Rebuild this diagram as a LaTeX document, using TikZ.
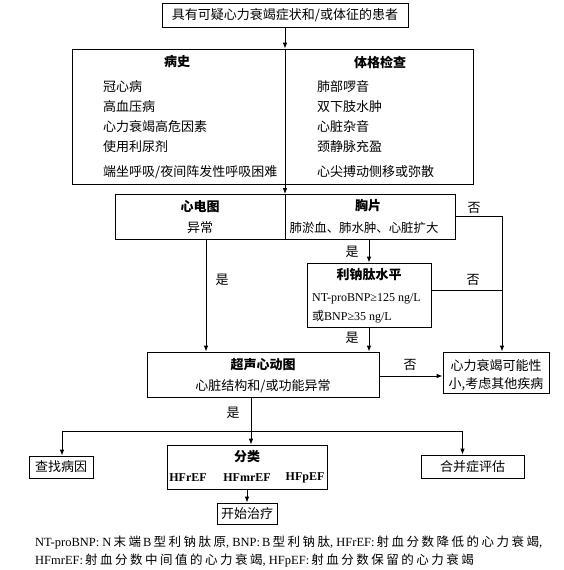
\documentclass[tikz,border=0pt]{standalone}
\usepackage{fontspec}
\setmainfont{Liberation Serif}
\newfontfamily\C{Noto Sans CJK SC}
\newfontfamily\Cfn[LetterSpace=20]{Noto Sans CJK SC}
\usetikzlibrary{arrows.meta,calc}
\begin{document}
\begin{tikzpicture}[x=1pt,y=-1pt,
  box/.style={draw, line width=0.8pt, inner sep=0pt, font=\C\fontsize{13}{15}\selectfont},
  txt/.style={inner sep=0pt, font=\C\fontsize{13}{15}\selectfont},
  hd/.style={inner sep=0pt, font=\C\bfseries\fontsize{13}{15}\selectfont},
  itm/.style={txt, anchor=west},
  lat/.style={inner sep=0pt, anchor=west, font=\fontsize{12}{14}\selectfont},
  hf/.style={inner sep=0pt, font=\bfseries\fontsize{12}{14}\selectfont},
  fn/.style={inner sep=0pt, anchor=west, font=\fontsize{12.5}{14}\selectfont},
  ln/.style={line width=0.8pt},
  arr/.style={ln, -{Latex[length=6pt,width=4.5pt]}},
]
\useasboundingbox (0,0) rectangle (564,570);

% boxes
\node[box, minimum width=246pt, minimum height=24pt] (top) at (285,15) {具有可疑心力衰竭症状和/或体征的患者};
\node[box, minimum width=401pt, minimum height=135pt] (hist) at (272.5,116.5) {};
\node[box, minimum width=340pt, minimum height=44.5pt] (ecg) at (285,216.75) {};
\node[box, minimum width=124pt, minimum height=64pt] (bnp) at (369,295) {};
\node[box, minimum width=232pt, minimum height=45pt] (echo) at (263,374.5) {};
\node[box, minimum width=106pt, minimum height=41pt] (alt) at (496,372.5) {};
\node[box, minimum width=64pt, minimum height=22pt] (cause) at (61,467) {查找病因};
\node[box, minimum width=160pt, minimum height=44pt] (cls) at (247,467) {};
\node[box, minimum width=103pt, minimum height=23pt] (comorb) at (472.5,466.5) {合并症评估};
\node[box, minimum width=60pt, minimum height=21pt] (treat) at (247,513.5) {开始治疗};

% history / exam texts
\node[hd] (hh) at (177,62) {病史};
\node[hd] (he) at (380,62) {体格检查};
\node[itm] (h1) at (103,87) {冠心病};
\node[itm] (h2) at (103,107) {高血压病};
\node[itm] (h3) at (103,127) {心力衰竭高危因素};
\node[itm] (h4) at (103,147) {使用利尿剂};
\node[itm] (h5) at (103,172) {端坐呼吸/夜间阵发性呼吸困难};
\node[itm] (e1) at (317,87) {肺部啰音};
\node[itm] (e2) at (317,107) {双下肢水肿};
\node[itm] (e3) at (317,127) {心脏杂音};
\node[itm] (e4) at (317,147) {颈静脉充盈};
\node[itm] (e5) at (317,172) {心尖搏动侧移或弥散};

% ECG / chest
\node[hd] (ecgh) at (200,207) {心电图};
\node[txt] (ecgt) at (200,228) {异常};
\node[hd] (chh) at (368,206) {胸片};
\node[txt, font=\C\fontsize{12.4}{14}\selectfont] (cht) at (364,228) {肺淤血、肺水肿、心脏扩大};

% BNP
\node[hd] (bnph) at (369,275) {利钠肽水平};
\node[lat] (bnp1) at (312,299) {NT-proBNP≥125 ng/L};
\node[lat] (bnp2) at (312,317) {{\C 或}BNP≥35 ng/L};

% echo
\node[hd] (echoh) at (263,365) {超声心动图};
\node[txt] (echot) at (263,386) {心脏结构和/或功能异常};

% alternative
\node[txt] (alt1) at (496,366) {心力衰竭可能性};
\node[txt] (alt2) at (496,384) {小,考虑其他疾病};

% classification
\node[hd] (clsh) at (247,457) {分类};
\node[hf] (hf1) at (188,478) {HFrEF};
\node[hf] (hf2) at (247,478) {HFmrEF};
\node[hf] (hf3) at (305,478) {HFpEF};

% labels
\node[txt] (y1) at (222,280) {是};
\node[txt] (y2) at (352,252) {是};
\node[txt] (y3) at (352,338) {是};
\node[txt] (y4) at (233,413) {是};
\node[txt] (n1) at (474,208) {否};
\node[txt] (n2) at (473,280) {否};
\node[txt] (n3) at (410,365) {否};

% connectors
\draw[arr] (top.south) -- (top.south |- hist.north);
\draw[ln] (top.south |- hist.north) -- (top.south |- hist.south);
\draw[arr] (top.south |- hist.south) -- (top.south |- ecg.north);
\draw[ln] (ecg.north) -- (ecg.south);

\coordinate (ea) at ([xshift=-79pt]ecg.south);
\draw[arr] (ea) -- (ea |- echo.north);
\draw[arr] (bnp.north |- ecg.south) -- (bnp.north);
\draw[arr] (bnp.south) -- (bnp.south |- echo.north);

\coordinate (vl) at ([xshift=6pt]alt.north);
\draw[arr] ([yshift=0.75pt]ecg.east) -| (vl);
\draw[ln] ([yshift=5pt]bnp.east) -- ([yshift=5pt]bnp.east -| vl);
\draw[arr] ([yshift=-1.5pt]echo.east) -- ([yshift=-1.5pt]echo.east -| alt.west);

\coordinate (eb) at ([xshift=-12pt]echo.south);
\draw[arr] (eb) -- (eb |- cls.north);
\coordinate (j) at ($(eb)!0.73!(eb |- cls.north)$);
\draw[arr] (j) -| ([xshift=1pt]cause.north);
\draw[arr] (j) -| ([xshift=-10pt]comorb.north);
\draw[arr] (cls.south -| treat.north) -- (treat.north);

% footnote
\node[fn] (fn1) at (35,543) {NT-proBNP: N\,{\Cfn 末端}\,B\,{\Cfn 型利钠肽原}, BNP:\,B\,{\Cfn 型利钠肽}, HFrEF:\,{\Cfn 射血分数降低的心力衰竭},};
\node[fn] (fn2) at (35,561) {HFmrEF:\,{\Cfn 射血分数中间值的心力衰竭}, HFpEF:\,{\Cfn 射血分数保留的心力衰竭}};
\end{tikzpicture}
\end{document}
